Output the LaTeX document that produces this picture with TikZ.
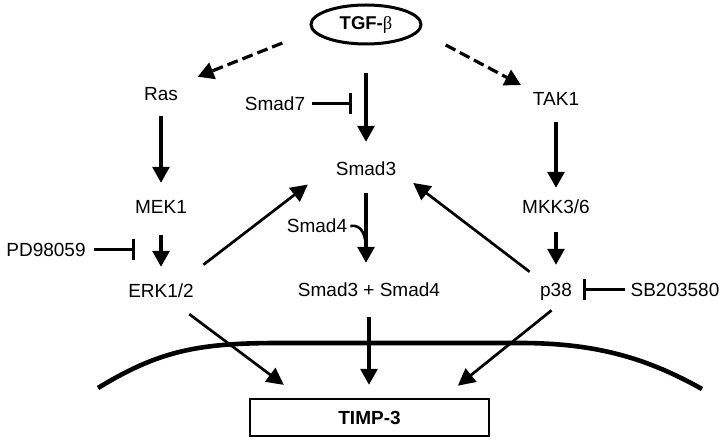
\documentclass[tikz,border=0pt]{standalone}
\usepackage{fontspec}
\setmainfont{Liberation Sans}
\newfontfamily\greekserif{Liberation Serif}
\usetikzlibrary{arrows.meta,shapes.geometric}
\begin{document}
\begin{tikzpicture}[x=1pt,y=-1pt,
  lbl/.style={font=\fontsize{19}{22}\selectfont, inner sep=0pt, text height=13.6pt, text depth=0pt},
  act/.style={line width=3.2pt, -{Triangle[length=16pt,width=17pt]}},
  diag/.style={line width=2.7pt, -{Triangle[length=17pt,width=17pt]}},
  dashact/.style={act, dash pattern=on 11pt off 5pt},
  inhib/.style={line width=3pt, -{Bar[width=21pt,line width=3.4pt]}},
  membrane/.style={line width=4.6pt}]
\useasboundingbox (0,0) rectangle (723,443);

% ligand and labels:
\node[ellipse, draw, line width=3pt, minimum width=110pt, minimum height=39pt, inner sep=0pt,
  font=\fontsize{18.5}{20}\selectfont\bfseries] (tgf) at (366,24.5) {TGF-{\greekserif\mdseries β}};
\node[lbl] (ras) at (161,93.5) {Ras};
\node[lbl] (tak) at (556,98.5) {TAK1};
\node[lbl] (smadseven) at (275,104) {Smad7};
\node[lbl] (smadthree) at (366,168.5) {Smad3};
\node[lbl] (mek) at (161,207) {MEK1};
\node[lbl] (mkk) at (556,207) {MKK3/6};
\node[lbl] (pd) at (46,250) {PD98059};
\node[lbl] (smadfour) at (317,226) {Smad4};
\node[lbl] (erk) at (161,291) {ERK1/2};
\node[lbl] (complex) at (369,290) {Smad3 + Smad4};
\node[lbl] (ptt) at (556,290) {p38};
\node[lbl] (sb) at (675,290) {SB203580};
\node[draw, line width=2.2pt, minimum width=239pt, minimum height=37pt,
  font=\fontsize{19}{20}\selectfont\bfseries] (timp) at (369.5,417.5) {TIMP-3};

\coordinate (sevenbar) at (352,104);
\coordinate (pdbar) at (135,250);
\coordinate (sbbar) at (583,290);
\coordinate (merge) at (366,250);

% cell membrane
\draw[membrane] (98,388) .. controls (160,350) and (200,343) .. (280,343) -- (520,343)
  .. controls (600,343) and (650,360) .. (702,389);

% arrows
\draw[dashact, shorten <=32.3pt, shorten >=26.4pt] (tgf.187.1) -- (ras.30.6);
\draw[dashact, shorten <=29.5pt, shorten >=13.8pt] (tgf.-7.1) -- (tak.163.6);
\draw[act, shorten <=28pt, shorten >=19.7pt] (tgf.south) -- (smadthree.north);
\draw[act, shorten <=15.7pt, shorten >=17.2pt] (ras.south) -- (mek.north);
\draw[act, shorten <=21.2pt, shorten >=17.2pt] (mek.south) -- (erk.north);
\draw[act, shorten <=16.7pt, shorten >=12.2pt] (tak.south) -- (mkk.north);
\draw[act, shorten <=18.2pt, shorten >=18.2pt] (mkk.south) -- (ptt.north);
\draw[act, shorten <=17.7pt, shorten >=20.2pt] (smadthree.south) -- (smadthree.south |- complex.north);
\draw[act, shorten <=20.2pt, shorten >=13.1pt] (complex.south) -- (complex.south |- timp.north);
\draw[diag, shorten <=31.7pt, shorten >=35.1pt] (erk.22) -- (smadthree.170.9);
\draw[diag, shorten <=18.5pt, shorten >=21.2pt] (ptt.149) -- (smadthree.-3.2);
\draw[diag, shorten <=26.9pt, shorten >=21.7pt] (erk.-46.3) -- (timp.164.3);
\draw[diag, shorten <=21.3pt, shorten >=19.5pt] (ptt.-30.2) -- (timp.15.45);
\draw[line width=2.6pt] ([xshift=3pt]smadfour.east) .. controls +(12,-2) and +(0,-14) .. (merge);

% inhibitors
\draw[inhib, shorten <=7pt] (smadseven.east) -- (sevenbar);
\draw[inhib, shorten <=8.4pt] (pd.east) -- (pdbar);
\draw[inhib, shorten <=5pt] (sb.west) -- (sbbar);

\end{tikzpicture}
\end{document}
